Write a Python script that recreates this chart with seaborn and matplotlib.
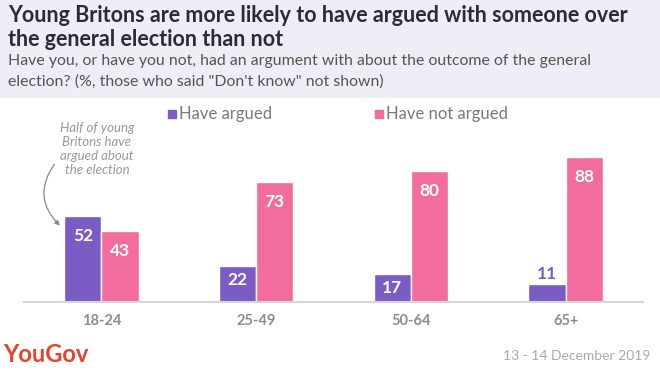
import matplotlib
matplotlib.use("Agg")
import matplotlib.pyplot as plt
import matplotlib.patches as mpatches
import seaborn as sns
import pandas as pd

# ── Data ──────────────────────────────────────────────────────────────────────
age_groups   = ["18-24", "25-49", "50-64", "65+"]
have_argued  = [52, 22, 17, 11]
not_argued   = [43, 73, 80, 88]
series_names = ["Have argued", "Have not argued"]

PURPLE = "#7b5cc4"
PINK   = "#f26d9d"
GREY   = "#8c8c8c"

df = pd.DataFrame({
    "age": age_groups * 2,
    "pct": have_argued + not_argued,
    "series": [series_names[0]] * 4 + [series_names[1]] * 4,
})

sns.set_theme(style="white")
plt.rcParams["font.family"] = ["Lato", "DejaVu Sans"]

W, H = 660, 371
fig = plt.figure(figsize=(W / 100, H / 100), dpi=100)
fig.patch.set_facecolor("white")

# header band
fig.patches.append(mpatches.Rectangle((0, 1 - 97 / H), 1, 97 / H,
                                      transform=fig.transFigure,
                                      color="#efedf6", zorder=0))

fig.text(8 / W, 1 - 16 / H, "Young Britons are more likely to have argued with someone over",
         fontsize=15.5, fontweight="bold", color="#2b2b3a", va="center")
fig.text(8 / W, 1 - 40 / H, "the general election than not",
         fontsize=15.5, fontweight="bold", color="#2b2b3a", va="center")
fig.text(8 / W, 1 - 61 / H, "Have you, or have you not, had an argument with about the outcome of the general",
         fontsize=11.4, color="#555555", va="center")
fig.text(8 / W, 1 - 82 / H, "election? (%, those who said \"Don't know\" not shown)",
         fontsize=11.4, color="#555555", va="center")

# ── Chart ─────────────────────────────────────────────────────────────────────
ax = fig.add_axes([24 / W, 1 - 301.7 / H, 619 / W, 161.7 / H])
sns.barplot(data=df, x="age", y="pct", hue="series", order=age_groups,
            hue_order=series_names, palette=[PURPLE, PINK], width=0.48,
            gap=0, saturation=1, legend=False, ax=ax)
ax.set_xlim(-0.5, 3.5)
ax.set_ylim(0, 98.6)
ax.set_xlabel("")
ax.set_ylabel("")
ax.set_yticks([])
for s in ["top", "left", "right"]:
    ax.spines[s].set_visible(False)
ax.spines["bottom"].set_color("#d6d6d6")
ax.spines["bottom"].set_linewidth(1.5)
ax.tick_params(axis="x", length=0, pad=9, labelsize=10.5, labelcolor=GREY)
for lbl in ax.get_xticklabels():
    lbl.set_fontweight("bold")

for container in ax.containers:
    for bar in container:
        h = bar.get_height()
        cx = bar.get_x() + bar.get_width() / 2
        px_h = h * 1.64
        if px_h < 25:
            ax.annotate(f"{h:.0f}", (cx, h), xytext=(0, 10), textcoords="offset pixels",
                        ha="center", va="center", color=bar.get_facecolor(),
                        fontsize=12.5, fontweight="bold")
        else:
            off = -20 if px_h > 50 else -14
            ax.annotate(f"{h:.0f}", (cx, h), xytext=(0, off), textcoords="offset pixels",
                        ha="center", va="center", color="white",
                        fontsize=12.5, fontweight="bold")

# legend
for x0, name, col in [(168, series_names[0], PURPLE), (375, series_names[1], PINK)]:
    fig.patches.append(mpatches.Rectangle((x0 / W, 1 - 118 / H), 8 / W, 8 / H,
                                          transform=fig.transFigure, color=col))
    fig.text((x0 + 11) / W, 1 - 114 / H, name, fontsize=12, color="#7a7a7a", va="center")

# annotation
fig.text(97 / W, 1 - 149 / H, "Half of young\nBritons have\nargued about\nthe election",
         fontsize=9.5, style="italic", color="#999999", ha="center", va="center",
         linespacing=1.2)
ax.annotate("", xy=(-0.255, 52 * 0.87), xycoords="data",
            xytext=(56 / W, 1 - 162 / H), textcoords="figure fraction",
            arrowprops=dict(arrowstyle="-|>", color="#888888", lw=0.9,
                            connectionstyle="arc3,rad=0.45", mutation_scale=7))

# footer
fig.text(3 / W, 1 - 355 / H, "YouGov", fontsize=17, fontweight="bold",
         color="#e8412c", va="center")
fig.text(650 / W, 1 - 356 / H, "13 - 14 December 2019", fontsize=10,
         color="#aaaaaa", va="center", ha="right")

fig.savefig("out.png", dpi=100)
